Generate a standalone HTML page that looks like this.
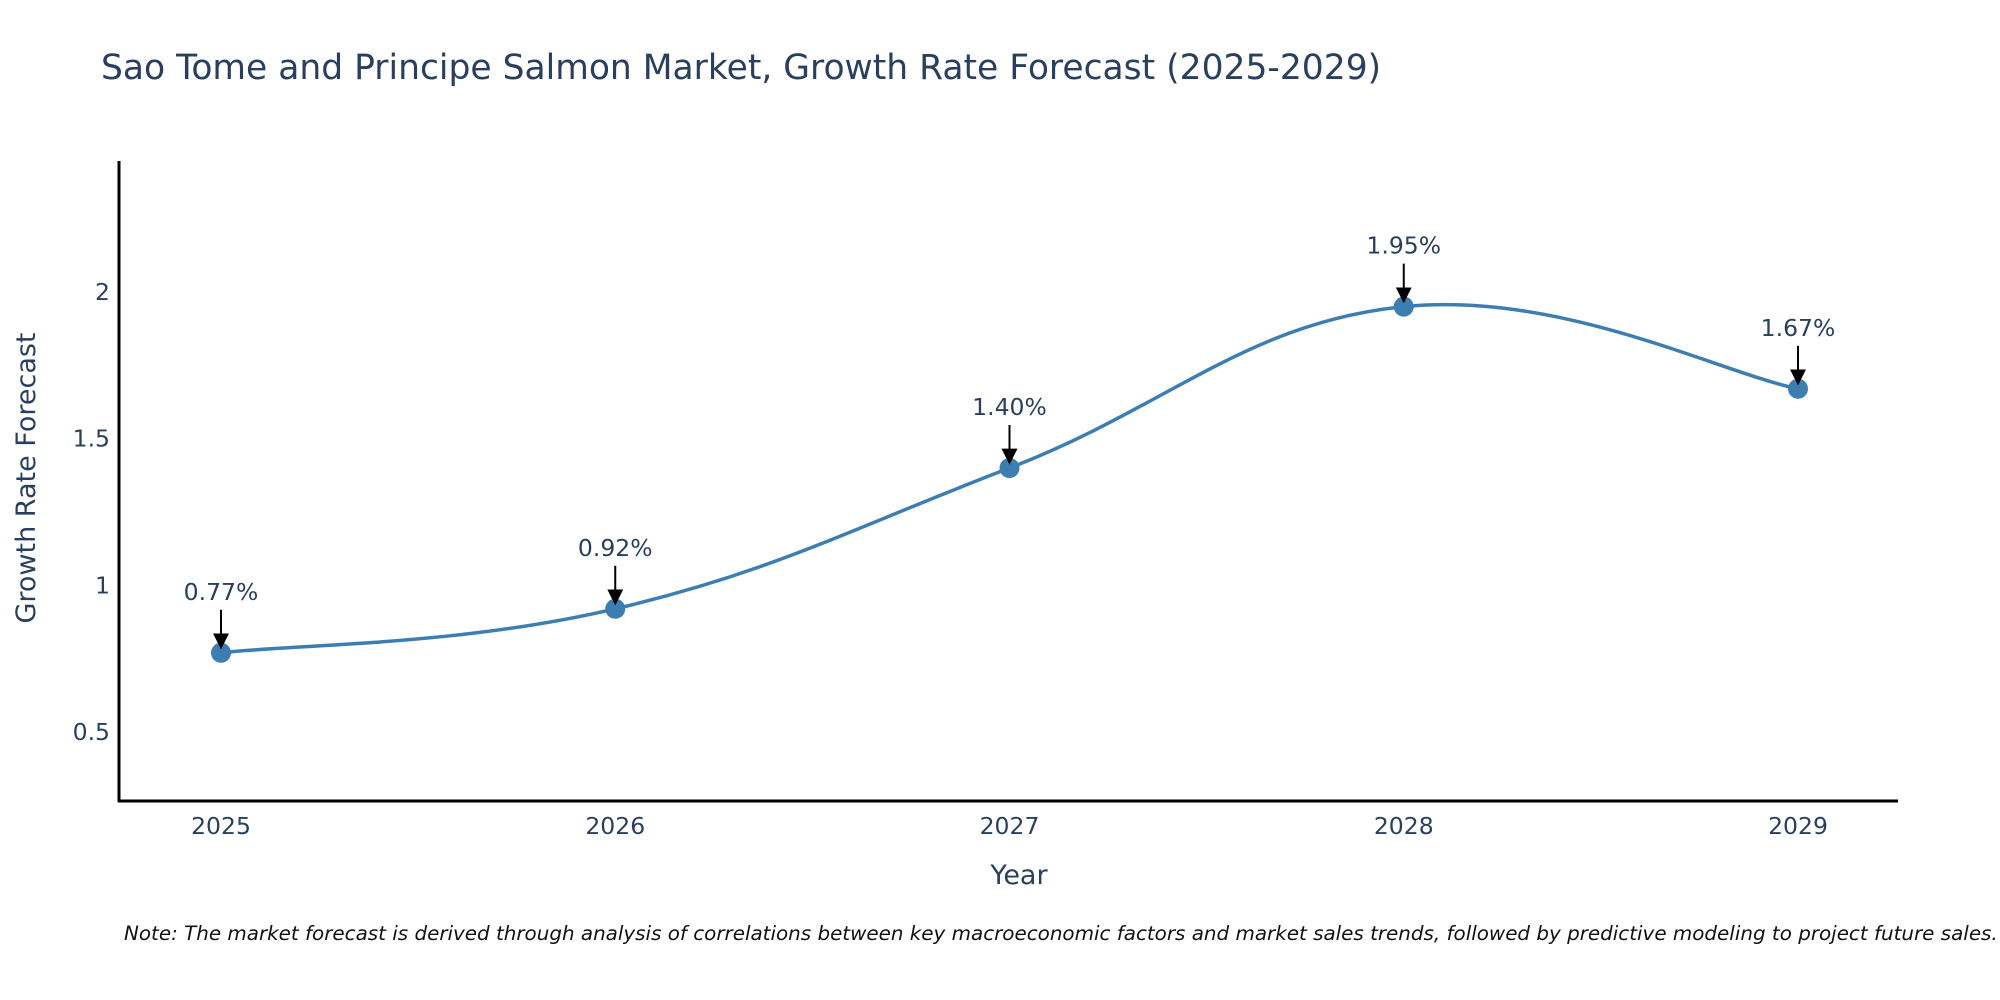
<!DOCTYPE html>
<html><head><meta charset="utf-8"><style>
body{margin:0;background:#fff}
svg{display:block}
text{font-family:"DejaVu Sans","Liberation Sans",sans-serif;fill:#2a3f5f}
</style></head><body>
<svg id="chart" width="2000" height="1000">
<defs><marker id="ah" viewBox="0 0 10 10" refX="9" refY="5" markerWidth="8" markerHeight="8" orient="auto"><path d="M0,0 L10,5 L0,10 z" fill="#000"/></marker></defs>
<text x="101" y="79" font-size="34.5">Sao Tome and Principe Salmon Market, Growth Rate Forecast (2025-2029)</text>
<g id="plot"></g>
<line x1="119" y1="161" x2="119" y2="802" stroke="#000" stroke-width="3"/>
<line x1="118" y1="801" x2="1898" y2="801" stroke="#000" stroke-width="3"/>
<text x="1019" y="884" font-size="27" text-anchor="middle">Year</text>
<text transform="translate(35,478) rotate(-90)" font-size="27" text-anchor="middle">Growth Rate Forecast</text>
<text x="124" y="940" font-size="19.9" font-style="italic" style="fill:#111">Note: The market forecast is derived through analysis of correlations between key macroeconomic factors and market sales trends, followed by predictive modeling to project future sales.</text>
</svg>
<script>
const years=[2025,2026,2027,2028,2029];
const values=[0.77,0.92,1.40,1.95,1.67];
const labels=["0.77%","0.92%","1.40%","1.95%","1.67%"];
const yTicks=[0.5,1,1.5,2];
const NS="http://www.w3.org/2000/svg";
const g=document.getElementById('plot');
function X(v){return 221+(v-2025)*394.25;}
function Y(v){return 292+(2-v)*293.33;}
function mk(t,a){const e=document.createElementNS(NS,t);for(const k in a)e.setAttribute(k,a[k]);g.appendChild(e);return e;}
yTicks.forEach(t=>{const e=mk('text',{x:110,y:Y(t)+8,'font-size':23.5,'text-anchor':'end'});e.textContent=t;

});
years.forEach(t=>{const e=mk('text',{x:X(t),y:834,'font-size':23.5,'text-anchor':'middle'});e.textContent=t;

});
const P=years.map((y,i)=>[X(y),Y(values[i])]);
let d='M'+P[0][0]+','+P[0][1];const s=0.2;
for(let i=0;i<P.length-1;i++){const p0=P[Math.max(i-1,0)],p1=P[i],p2=P[i+1],p3=P[Math.min(i+2,P.length-1)];
d+=` C${p1[0]+(p2[0]-p0[0])*s},${p1[1]+(p2[1]-p0[1])*s} ${p2[0]-(p3[0]-p1[0])*s},${p2[1]-(p3[1]-p1[1])*s} ${p2[0]},${p2[1]}`;}
const ln=mk('path',{d:d,fill:'none',stroke:'#3d7eb2','stroke-width':3.5});


P.forEach((p,i)=>{const c=mk('circle',{cx:p[0],cy:p[1],r:10,fill:'#3d7eb2'});


const a=mk('line',{x1:p[0],y1:p[1]-43,x2:p[0],y2:p[1]-5,stroke:'#000','stroke-width':2,'marker-end':'url(#ah)'});


const t=mk('text',{x:p[0],y:p[1]-53,'font-size':23.5,'text-anchor':'middle'});t.textContent=labels[i];

});
</script>
</body></html>
